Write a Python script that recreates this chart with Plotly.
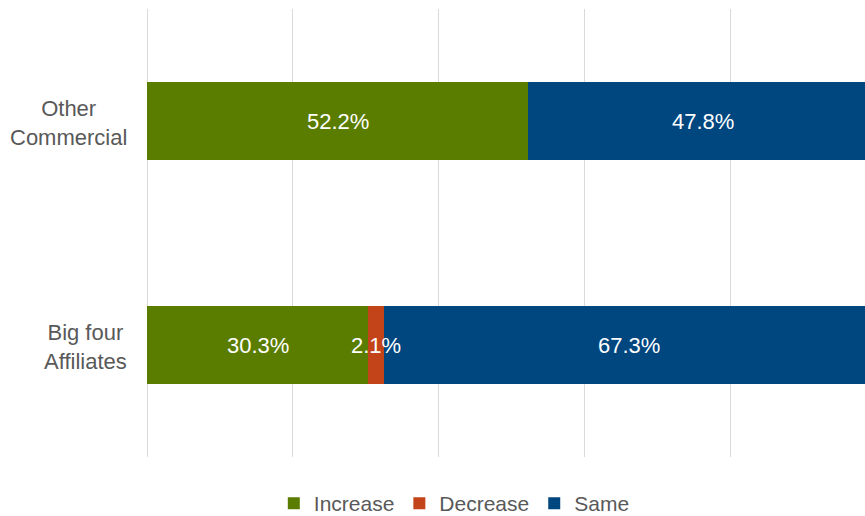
import plotly.graph_objects as go

# Survey groups (bottom to top) and share of responses, in percent
categories = ["Big four<br>Affiliates", "Other<br>Commercial"]
increase = [30.3, 52.2]
decrease = [2.1, 0.0]
same = [67.3, 47.8]

series = [
    ("Increase", increase, "#5A7D00"),
    ("Decrease", decrease, "#C4441A"),
    ("Same", same, "#00467F"),
]

FONT = "Liberation Sans, Arial, sans-serif"
GREY = "#595959"
SIZE = 22

fig = go.Figure()
for name, values, color in series:
    fig.add_trace(go.Bar(
        name=name,
        y=categories,
        x=values,
        orientation="h",
        marker=dict(color=color, line=dict(width=0)),
        hoverinfo="skip",
    ))

# Value labels centred on each segment (segment start + half its length)
for i, cat in enumerate(categories):
    start = 0.0
    for name, values, color in series:
        v = values[i]
        if v > 0:
            fig.add_annotation(
                x=start + v / 2, xref="x",
                y=cat, yref="y",
                text=f"{v:.1f}%", showarrow=False,
                xanchor="center", yanchor="middle",
                font=dict(family=FONT, size=SIZE, color="white"),
            )
        start += v

# Category labels, centred line by line to the left of the bars
for cat in categories:
    fig.add_annotation(
        x=0, xref="paper", xanchor="right", xshift=-18,
        y=cat, yref="y", yanchor="middle", yshift=-2,
        text=cat, align="center", showarrow=False,
        font=dict(family=FONT, size=SIZE, color=GREY),
    )

fig.update_layout(
    width=865, height=516,
    barmode="stack",
    bargap=0.652,
    paper_bgcolor="white",
    plot_bgcolor="white",
    margin=dict(l=147, r=0, t=9, b=59, autoexpand=False),
    font=dict(family=FONT, size=SIZE, color=GREY),
    xaxis=dict(
        range=[0, 98.36],
        dtick=20,
        showticklabels=False,
        showgrid=True,
        gridcolor="#D9D9D9",
        gridwidth=1,
        zeroline=True,
        zerolinecolor="#D9D9D9",
        zerolinewidth=1,
        showline=False,
        fixedrange=True,
    ),
    yaxis=dict(
        showticklabels=False,
        showgrid=False,
        zeroline=False,
        showline=False,
        fixedrange=True,
    ),
    legend=dict(
        orientation="h",
        traceorder="normal",
        x=0.428, xanchor="center",
        y=-0.104, yanchor="middle",
        font=dict(family=FONT, size=21, color=GREY),
        bgcolor="rgba(0,0,0,0)",
        borderwidth=0,
        itemwidth=30,
    ),
    showlegend=True,
)

fig.write_html("out.html")
